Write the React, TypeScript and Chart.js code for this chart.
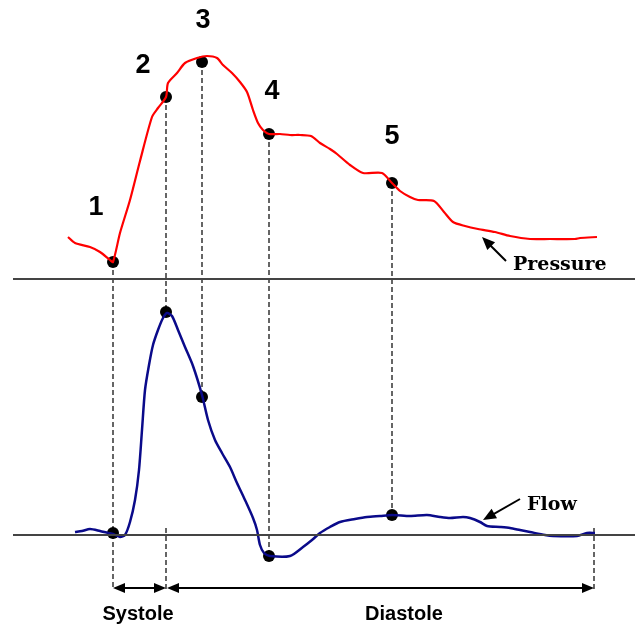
import React, { useEffect, useRef } from "react";
import { Chart, registerables } from "chart.js";

Chart.register(...registerables);

// Time in ms from the start of systole
const pressureTime = [-90, -76, -46, -26, -6, 0, 14, 34, 54, 78, 90, 106, 110, 128, 144, 168, 188, 208, 220, 238, 254, 268, 280, 290, 300, 312, 334, 354, 374, 396, 414, 434, 448, 474, 500, 538, 558, 574, 594, 610, 642, 662, 680, 704, 730, 764, 794, 834, 874, 924, 934, 968];
// Aortic pressure, mmHg
const pressure = [70.5, 69, 68, 66.75, 64.75, 64.25, 71.5, 79.75, 89.5, 100.5, 102.75, 105.5, 109, 111.5, 114, 115.25, 115.75, 115.25, 113.5, 111.5, 109.25, 106.75, 102.25, 99, 97.25, 96.25, 96.25, 96, 96, 95.75, 94, 92.5, 91.25, 88.5, 86.5, 86.5, 84, 82, 80.5, 79.75, 79.5, 76.75, 74.25, 73.25, 72.5, 71.75, 70.75, 70, 70, 70, 70.25, 70.5];

const flowTime = [-76, -62, -46, -26, -10, 0, 14, 24, 34, 44, 52, 58, 64, 72, 80, 90, 100, 108, 118, 130, 144, 160, 178, 190, 204, 218, 234, 248, 264, 280, 288, 294, 302, 314, 354, 380, 398, 414, 434, 454, 484, 508, 534, 558, 594, 628, 654, 674, 700, 714, 734, 748, 774, 794, 814, 834, 864, 880, 928, 948, 964];
// Aortic flow, ml/s
const flow = [6, 8, 12, 8, 4, 2, -4, 0, 26, 70, 130, 210, 290, 340, 380, 410, 434, 444, 438, 410, 376, 338, 280, 230, 190, 164, 136, 104, 70, 34, 10, -20, -36, -42, -42, -24, -10, 4, 16, 26, 32, 36, 38, 40, 38, 40, 36, 34, 36, 34, 26, 18, 16, 14, 10, 6, 0, -2, -2, 4, 4];

const markerLabels = ["1", "2", "3", "4", "5"];
const markerTime = [0, 106, 178, 312, 558];
const markerPressure = [64.25, 105.5, 114.25, 96.25, 84];
const markerFlow = [4, 446, 276, -42, 40];

const pressureBaseline = 60; // mmHg
const flowBaseline = 0; // ml/s
const cycleEnd = 962;

const phaseLabels = ["Systole", "Diastole"];
const phaseStart = [0, 108];
const phaseEnd = [106, cycleEnd];

export default function App() {
  const ref = useRef<HTMLCanvasElement>(null);

  useEffect(() => {
    const canvas = ref.current;
    if (!canvas) return;

    const arrowY = -106;
    const guideBottom = -110;

    const drawHead = (ctx: CanvasRenderingContext2D, x1: number, y1: number, x2: number, y2: number, len: number, half: number) => {
      const ang = Math.atan2(y2 - y1, x2 - x1);
      ctx.beginPath();
      ctx.moveTo(x2, y2);
      ctx.lineTo(x2 - len * Math.cos(ang) + half * Math.sin(ang), y2 - len * Math.sin(ang) - half * Math.cos(ang));
      ctx.lineTo(x2 - len * Math.cos(ang) - half * Math.sin(ang), y2 - len * Math.sin(ang) + half * Math.cos(ang));
      ctx.closePath();
      ctx.fill();
    };

    const guides = {
      id: "guides",
      beforeDatasetsDraw(chart: any) {
        const { ctx } = chart;
        const x = chart.scales.x;
        const yP = chart.scales.yP;
        const yF = chart.scales.yF;
        ctx.save();
        ctx.strokeStyle = "#333";
        ctx.lineWidth = 1.5;
        ctx.setLineDash([5, 3]);
        const seg = (t: number, a: number, b: number) => {
          const px = Math.round(x.getPixelForValue(t));
          ctx.beginPath();
          ctx.moveTo(px, a);
          ctx.lineTo(px, b);
          ctx.stroke();
        };
        markerTime.forEach((t, i) => {
          const top = yP.getPixelForValue(markerPressure[i]);
          const bottom = i === 0 ? yF.getPixelForValue(guideBottom) : yF.getPixelForValue(markerFlow[i]);
          seg(t, top, bottom);
        });
        seg(markerTime[1], yF.getPixelForValue(14), yF.getPixelForValue(guideBottom));
        seg(cycleEnd, yF.getPixelForValue(14), yF.getPixelForValue(guideBottom));
        ctx.restore();
      },
      afterDatasetsDraw(chart: any) {
        const { ctx } = chart;
        const x = chart.scales.x;
        const yP = chart.scales.yP;
        const yF = chart.scales.yF;
        ctx.save();
        ctx.fillStyle = "#000";
        ctx.strokeStyle = "#000";

        // numbers
        const numPos = [
          [-34, 77.75],
          [60, 113.25],
          [180, 124.6],
          [318, 106.75],
          [558, 95.5],
        ];
        ctx.font = "bold 27px 'Liberation Sans', Arial, sans-serif";
        ctx.textAlign = "center";
        ctx.textBaseline = "middle";
        markerLabels.forEach((l, i) => {
          ctx.fillText(l, x.getPixelForValue(numPos[i][0]), yP.getPixelForValue(numPos[i][1]));
        });

        // series names
        ctx.font = "bold 19px 'DejaVu Serif', serif";
        ctx.textAlign = "left";
        ctx.textBaseline = "alphabetic";
        ctx.fillText("Pressure", x.getPixelForValue(800), yP.getPixelForValue(62.25));
        ctx.fillText("Flow", x.getPixelForValue(828), yF.getPixelForValue(50));

        // name arrows
        ctx.lineWidth = 2;
        const arrow = (x1: number, y1: number, x2: number, y2: number, len: number, half: number) => {
          const ang = Math.atan2(y2 - y1, x2 - x1);
          ctx.beginPath();
          ctx.moveTo(x1, y1);
          ctx.lineTo(x2 - len * 0.7 * Math.cos(ang), y2 - len * 0.7 * Math.sin(ang));
          ctx.stroke();
          drawHead(ctx, x1, y1, x2, y2, len, half);
        };
        arrow(x.getPixelForValue(786), yP.getPixelForValue(64.5), x.getPixelForValue(738), yP.getPixelForValue(70.5), 13, 5.5);
        arrow(x.getPixelForValue(814), yF.getPixelForValue(72), x.getPixelForValue(740), yF.getPixelForValue(30), 13, 5.5);

        // phase arrows
        ctx.lineWidth = 1.8;
        const ay = Math.round(yF.getPixelForValue(arrowY));
        phaseStart.forEach((s, i) => {
          const a = x.getPixelForValue(s);
          const b = x.getPixelForValue(phaseEnd[i]);
          ctx.beginPath();
          ctx.moveTo(a + 6, ay);
          ctx.lineTo(b - 6, ay);
          ctx.stroke();
          drawHead(ctx, b, ay, a, ay, 12, 5);
          drawHead(ctx, a, ay, b, ay, 12, 5);
        });
        ctx.font = "bold 20px 'Liberation Sans', Arial, sans-serif";
        ctx.textAlign = "center";
        ctx.textBaseline = "alphabetic";
        ctx.fillText(phaseLabels[0], x.getPixelForValue(50), yF.getPixelForValue(-170));
        ctx.fillText(phaseLabels[1], x.getPixelForValue(582), yF.getPixelForValue(-170));
        ctx.restore();
      },
    };

    const chart = new Chart(canvas, {
      type: "scatter",
      data: {
        datasets: [
          {
            data: [
              { x: -200, y: pressureBaseline },
              { x: 1044, y: pressureBaseline },
            ],
            yAxisID: "yP",
            showLine: true,
            borderColor: "#444",
            borderWidth: 2,
            pointRadius: 0,
          },
          {
            data: [
              { x: -200, y: flowBaseline },
              { x: 1044, y: flowBaseline },
            ],
            yAxisID: "yF",
            showLine: true,
            borderColor: "#444",
            borderWidth: 2,
            pointRadius: 0,
          },
          {
            data: pressureTime.map((t, i) => ({ x: t, y: pressure[i] })),
            yAxisID: "yP",
            showLine: true,
            borderColor: "#ff0000",
            borderWidth: 2.2,
            pointRadius: 0,
            tension: 0.25,
          },
          {
            data: flowTime.map((t, i) => ({ x: t, y: flow[i] })),
            yAxisID: "yF",
            showLine: true,
            borderColor: "#0a0a8a",
            borderWidth: 2.5,
            pointRadius: 0,
            tension: 0.25,
          },
          {
            data: markerTime.map((t, i) => ({ x: t, y: markerPressure[i] })),
            yAxisID: "yP",
            showLine: false,
            pointRadius: 6,
            pointBackgroundColor: "#000",
            pointBorderWidth: 0,
          },
          {
            data: markerTime.map((t, i) => ({ x: t, y: markerFlow[i] })),
            yAxisID: "yF",
            showLine: false,
            pointRadius: 6,
            pointBackgroundColor: "#000",
            pointBorderWidth: 0,
          },
        ],
      },
      options: {
        animation: false,
        responsive: false,
        events: [],
        layout: { padding: 0, autoPadding: false },
        plugins: { legend: { display: false }, tooltip: { enabled: false } },
        scales: {
          x: { type: "linear", min: -226, max: 1044, display: false },
          yP: { type: "linear", min: -27.25, max: 129.75, display: false },
          yF: { type: "linear", min: -186, max: 1070, display: false },
        },
      },
      plugins: [guides],
    });
    return () => chart.destroy();
  }, []);

  return (
    <div style={{ position: "absolute", left: 0, top: 0, width: 635, height: 628, background: "#fff" }}>
      <canvas ref={ref} width={635} height={628} style={{ display: "block" }} />
    </div>
  );
}
